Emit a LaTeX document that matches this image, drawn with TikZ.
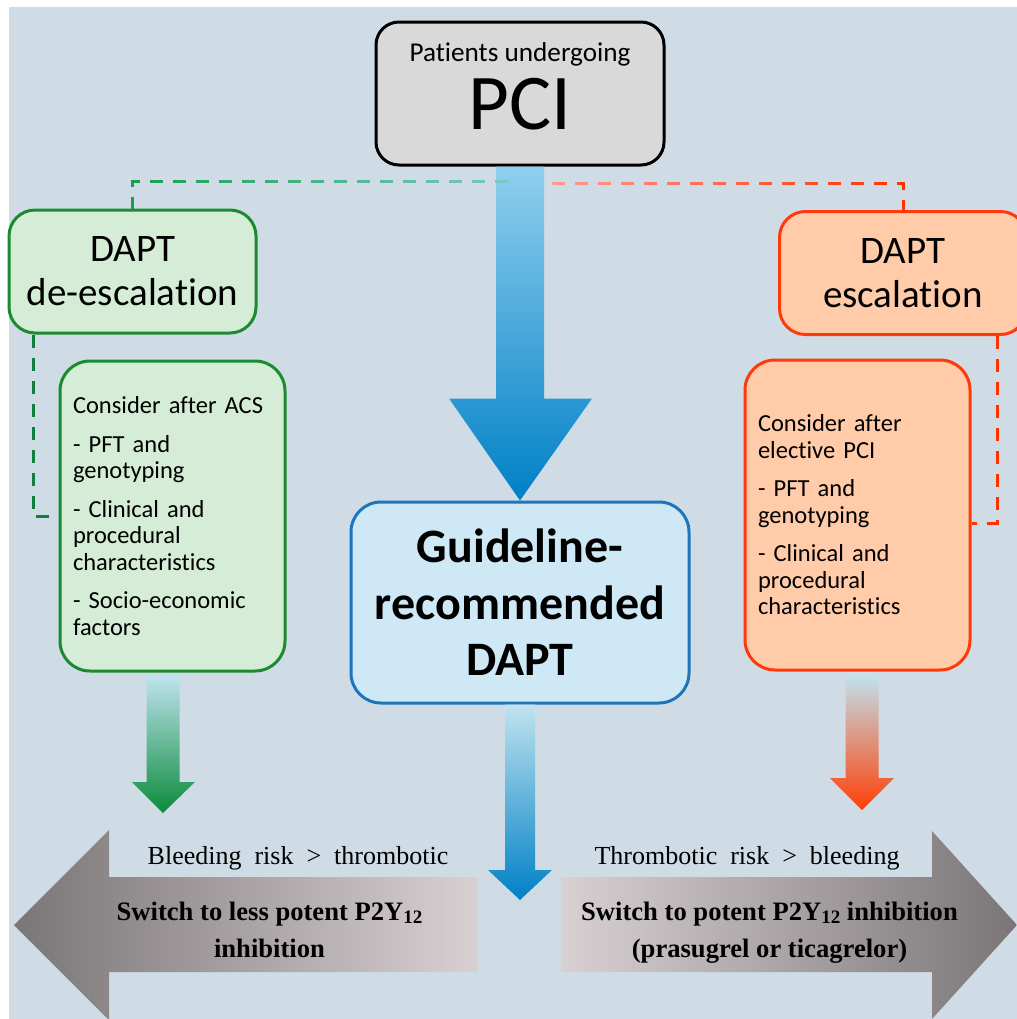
\documentclass[tikz,border=0pt]{standalone}
\usepackage{fontspec}
\setmainfont{Carlito}[Ligatures=NoCommon]
\newfontfamily\timesfont{Liberation Serif}
\usepackage{tikz}
\usetikzlibrary{calc,fadings}
\definecolor{bgc}{HTML}{CFDCE5}
\definecolor{pcifill}{HTML}{D9D9D9}
\definecolor{gfill}{HTML}{D5EDD7}
\definecolor{gline}{HTML}{1C8A30}
\definecolor{ofill}{HTML}{FFCBA8}
\definecolor{oline}{HTML}{FF3A0A}
\definecolor{bfill}{HTML}{CFE8F6}
\definecolor{bline}{HTML}{1D75BC}
\definecolor{gdashA}{HTML}{17A04C}
\definecolor{gdashB}{HTML}{7ACBC6}
\definecolor{rdashA}{HTML}{FF3300}
\definecolor{rdashB}{HTML}{FF9C94}
\definecolor{skyA}{HTML}{90CFEE}
\definecolor{skyB}{HTML}{1FAEE0}
\definecolor{skyC}{HTML}{0080C6}
\definecolor{paleblue}{HTML}{C0E3EF}
\definecolor{leaf}{HTML}{0B8B3B}
\definecolor{leafmid}{HTML}{5DB58A}
\definecolor{flame}{HTML}{FF3E05}
\definecolor{flamemid}{HTML}{FFA3A0}
\definecolor{greyD}{HTML}{7A7576}
\definecolor{greyL}{HTML}{D8D0D2}
\tikzfading[name=fadetoright, left color=transparent!0, right color=transparent!100]
\tikzfading[name=fadetoleft, left color=transparent!100, right color=transparent!0]
\newcommand{\subn}[1]{\raisebox{-0.3ex}{\fontsize{9.5}{10}\selectfont #1}}
\tikzset{
  box/.style={draw, line width=1.5pt, align=center, inner sep=0pt},
  pcibox/.style={box, draw=black, fill=pcifill, rounded corners=11.5pt, minimum width=144pt, minimum height=71.5pt,
    font=\fontsize{13.6}{34}\selectfont},
  headbox/.style={box, rounded corners=13pt, minimum width=123.5pt, minimum height=61.5pt, font=\fontsize{19.5}{22}\selectfont},
  consbox/.style={box, rounded corners=15pt, align=left, text width=99.5pt, inner xsep=6.5pt, minimum height=155pt, font=\fontsize{12.25}{13.25}\selectfont},
  gdash/.style={line width=1.5pt, dash pattern=on 6.5pt off 5pt},
  risk/.style={anchor=base, font=\timesfont\fontsize{13}{15}\selectfont},
  switch/.style={align=center, font=\timesfont\bfseries\fontsize{13.3}{18.5}\selectfont},
}

\begin{document}
\begin{tikzpicture}[x=0.5pt,y=-0.5pt]
  \useasboundingbox (0,0) rectangle (1017,1019);
  \fill[white] (0,0) rectangle (1017,1019);
  \fill[bgc] (9,7) rectangle (1017,1019);

  % boxes
  \node[pcibox] (pci) at (520,93.5)
    {Patients undergoing\\\fontsize{39.5}{34}\selectfont PCI\rule[-7pt]{0pt}{0pt}};
  \node[headbox, draw=gline, fill=gfill] (deesc) at (132.5,271.5) {DAPT\\de-escalation};
  \node[headbox, draw=oline, fill=ofill] (esc) at (903,273) {DAPT\\escalation};
  \node[consbox, draw=gline, fill=gfill] (consA) at (172.5,516)
    {Consider after ACS\\[6pt]- PFT and\\genotyping\\[6pt]- Clinical and\\procedural\\characteristics\\[6pt]- Socio-economic\\factors};
  \node[consbox, draw=oline, fill=ofill] (consB) at (857.5,515)
    {Consider after\\elective PCI\\[6pt]- PFT and\\genotyping\\[6pt]- Clinical and\\procedural\\characteristics};
  \node[box, draw=bline, fill=bfill, rounded corners=15pt, minimum width=169pt, minimum height=100.5pt,
    font=\bfseries\fontsize{24}{28.25}\selectfont] (guide) at (520,602.5) {Guideline-\\recommended\\DAPT};

  % block arrows
  \shade[top color=skyA, middle color=skyB, bottom color=skyC]
    ($(pci.south)+(-24,0)$) -- ($(pci.south)+(24,0)$) -- ($(guide.north)+(24,-102)$) -- ($(guide.north)+(72,-102)$)
    -- (guide.north) -- ($(guide.north)+(-71,-102)$) -- ($(guide.north)+(-24,-102)$) -- cycle;
  \coordinate (btip) at (520,900);
  \shade[top color=paleblue, middle color=skyB!80, bottom color=skyC]
    ($(guide.south)+(-15,0)$) -- ($(guide.south)+(15,0)$) -- ($(btip)+(15,-30)$) -- ($(btip)+(32,-30)$)
    -- (btip) -- ($(btip)+(-32,-30)$) -- ($(btip)+(-15,-30)$) -- cycle;
  \coordinate (gtip) at (163,813);
  \shade[top color=paleblue, middle color=leafmid, bottom color=leaf]
    ($(consA.south -| gtip)+(-16.5,3)$) -- ($(consA.south -| gtip)+(16.5,3)$) -- ($(gtip)+(16.5,-31)$) -- ($(gtip)+(32,-31)$)
    -- (gtip) -- ($(gtip)+(-31,-31)$) -- ($(gtip)+(-16.5,-31)$) -- cycle;
  \coordinate (rtip) at (862,810);
  \shade[top color=paleblue, middle color=flamemid, bottom color=flame]
    ($(consB.south -| rtip)+(-16.5,3)$) -- ($(consB.south -| rtip)+(16.5,3)$) -- ($(rtip)+(16.5,-32)$) -- ($(rtip)+(32,-32)$)
    -- (rtip) -- ($(rtip)+(-32,-32)$) -- ($(rtip)+(-16.5,-32)$) -- cycle;

  \shade[left color=greyD, right color=greyL]
    (14,925) -- (109,830) -- (109,877) -- (478,877) -- (478,972) -- (109,972) -- (109,1020) -- cycle;
  \shade[left color=greyL, right color=greyD]
    (1017,925) -- (932,831) -- (932,877) -- (561,877) -- (561,972) -- (932,972) -- (932,1019) -- cycle;

  % dashed links
  \coordinate (gstart) at (508,181);
  \coordinate (rstart) at (552,183);
  \draw[gdash, draw=gdashB] (gstart) -| (deesc.north);
  \draw[gdash, draw=gdashA, path fading=fadetoright] (gstart) -| (deesc.north);
  \draw[gdash, draw=rdashB] (rstart) -| (esc.north);
  \draw[gdash, draw=rdashA, path fading=fadetoleft] (rstart) -| (esc.north);
  \draw[gdash, draw=gdashA!80!black] (deesc.south -| 33,0) |- (consA.west);
  \draw[gdash, draw=rdashA] (esc.south -| 997,0) |- ($(consB.east)+(0,8)$);

  % arrow texts
  \node[risk] (riskL) at (298,864) {Bleeding\ \ risk\ \ >\ \ thrombotic};
  \node[risk] (riskR) at (747,864) {Thrombotic\ \ risk\ \ >\ \ bleeding};
  \node[switch] (swL) at (269.5,929.5) {Switch to less potent P2Y\subn{12}\\inhibition};
  \node[switch] (swR) at (769.5,932.5) {Switch to potent P2Y\subn{12} inhibition\\(prasugrel or ticagrelor)};
\end{tikzpicture}
\end{document}
